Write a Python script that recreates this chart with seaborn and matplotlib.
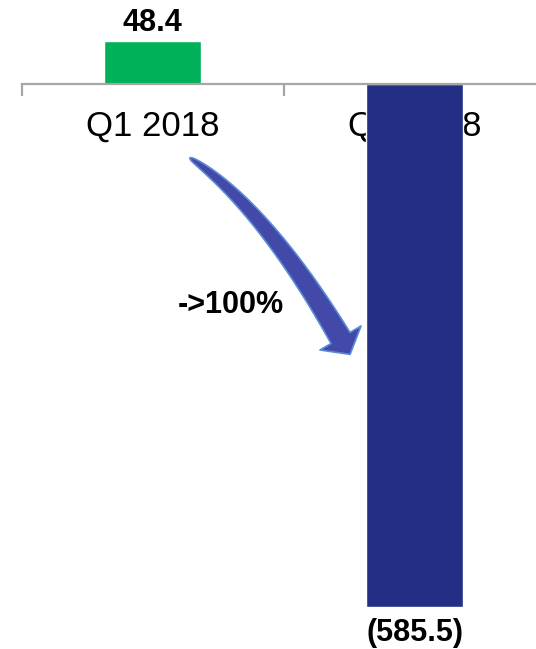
import matplotlib
matplotlib.use("Agg")
import matplotlib.pyplot as plt
import seaborn as sns
import numpy as np
import pandas as pd
from matplotlib.patches import Polygon
from matplotlib.transforms import Affine2D

# Quarterly result, in millions
quarters = ["Q1 2018", "Q2 2018"]
net_values = [48.4, -585.5]
value_labels = ["48.4", "(585.5)"]
bar_colors = ["#00B159", "#232F84"]
change_label = "->100%"

sns.set_theme(style="white")
plt.rcParams["font.family"] = ["Liberation Sans", "DejaVu Sans"]

W, H = 536, 649
fig = plt.figure(figsize=(W / 100, H / 100), dpi=100)
ax = fig.add_axes([21.5 / W, 0, 524 / W, 1])

df = pd.DataFrame({"quarter": quarters, "value": net_values})
sns.barplot(data=df, x="quarter", y="value", hue="quarter",
            palette=bar_colors, saturation=1, width=0.37,
            legend=False, ax=ax)

ax.set_xlim(-0.5, 1.5)
ax.set_ylim(-632, 94)
ax.set_xlabel("")
ax.set_ylabel("")
ax.set_yticks([])

# zero line with category separators
for side in ("left", "right", "top"):
    ax.spines[side].set_visible(False)
ax.spines["bottom"].set_position(("data", 0))
ax.spines["bottom"].set_color("#A6A6A6")
ax.spines["bottom"].set_linewidth(1.6)
ax.set_xticks([-0.5, 0.5, 1.5])
ax.tick_params(axis="x", bottom=True, direction="out", length=8.6,
               width=1.6, color="#A6A6A6", labelbottom=False)

# category names sit underneath the bars
for i, q in enumerate(quarters):
    ax.annotate(q, xy=(i, 0), xytext=(0, -37.4), textcoords="offset points",
                ha="center", va="baseline", fontsize=25, color="black",
                zorder=0.5, annotation_clip=False)

# value labels
for i, (v, lbl) in enumerate(zip(net_values, value_labels)):
    dy = 7.2 if v >= 0 else -24.5
    ax.annotate(lbl, xy=(i, v), xytext=(0, dy), textcoords="offset points",
                ha="center", va="baseline", fontsize=22, fontweight="bold",
                color="black", annotation_clip=False)

# curved change arrow, drawn in pixel space
px = Affine2D().scale(1 / W, -1 / H).translate(0, 1) + fig.transFigure

P0 = np.array([190.0, 158.0])
P3 = np.array([340.5, 338.0])
d_start = np.array([0.84, 0.55])
d_end = np.array([0.505, 0.863])
P1 = P0 + 70 * d_start
P2 = P3 - 75 * d_end

t = np.linspace(0, 1, 80)[:, None]
curve = ((1 - t) ** 3) * P0 + 3 * ((1 - t) ** 2) * t * P1 \
    + 3 * (1 - t) * (t ** 2) * P2 + (t ** 3) * P3
deriv = 3 * ((1 - t) ** 2) * (P1 - P0) + 6 * (1 - t) * t * (P2 - P1) \
    + 3 * (t ** 2) * (P3 - P2)
tang = deriv / np.linalg.norm(deriv, axis=1, keepdims=True)
normal = np.column_stack([-tang[:, 1], tang[:, 0]])
half = (1 + 21 * np.sqrt(t)) / 2
left = curve + normal * half
right = curve - normal * half

n_end = np.array([-d_end[1], d_end[0]])
wing_a = P3 + 23.8 * n_end
wing_b = P3 - 23.8 * n_end
tip = P3 + 19 * d_end

outline = np.vstack([left, wing_a, tip, wing_b, right[::-1]])
arrow = Polygon(outline, closed=True, transform=px, facecolor="#4349A9",
                edgecolor="#5B8BD5", linewidth=1.2, joinstyle="round",
                zorder=5)
fig.patches.append(arrow)

fig.text(231 / W, 1 - 313 / H, change_label, ha="center", va="baseline",
         fontsize=22, fontweight="bold", color="black")

fig.savefig("out.png", dpi=100)
